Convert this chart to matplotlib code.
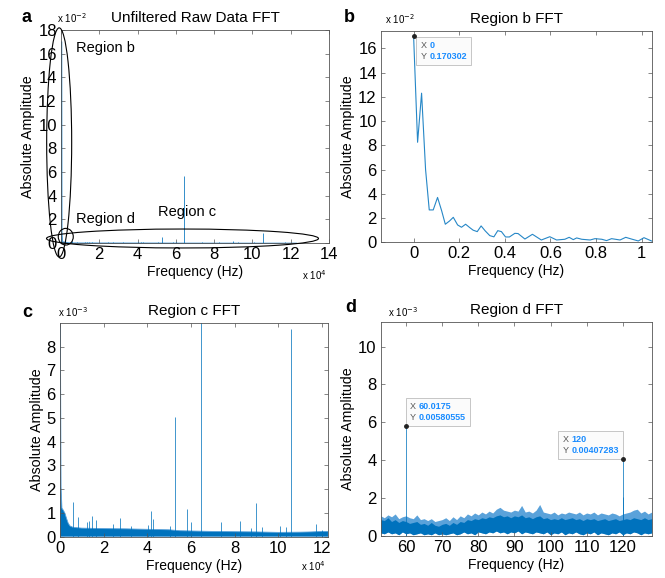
"""FFT spectra of the raw signal, with zoomed views of three regions."""

import matplotlib

matplotlib.use("Agg")
import matplotlib.pyplot as plt
import numpy as np
from matplotlib.offsetbox import AnnotationBbox, HPacker, TextArea
from matplotlib.patches import Ellipse
from matplotlib.ticker import FuncFormatter

plt.rcParams["font.family"] = ["Liberation Sans", "DejaVu Sans"]

LINE = "#0072BD"
LIGHT = "#5aa2da"

# Region b: lowest bins of the spectrum (Hz, amplitude x1e-2)
b_freq = [0.0, 0.0175, 0.035, 0.0525, 0.0686, 0.086, 0.105, 0.123, 0.139, 0.157,
          0.174, 0.193, 0.21, 0.228, 0.247, 0.261, 0.279, 0.296, 0.314, 0.334,
          0.352, 0.369, 0.385, 0.403, 0.42, 0.444, 0.458, 0.488, 0.521, 0.56,
          0.597, 0.627, 0.663, 0.682, 0.70, 0.715, 0.737, 0.774, 0.795, 0.825,
          0.846, 0.868, 0.905, 0.93, 0.955, 0.985, 1.01, 1.043]
b_amp = [17.0302, 8.25, 12.3, 6.0, 2.67, 2.67, 3.7, 2.6, 1.49, 1.75,
         2.06, 1.43, 1.24, 1.49, 1.2, 1.0, 0.88, 1.35, 0.94, 0.55,
         0.45, 0.96, 0.88, 0.44, 0.44, 0.74, 0.72, 0.27, 0.66, 0.19,
         0.46, 0.19, 0.25, 0.41, 0.22, 0.36, 0.25, 0.19, 0.3, 0.25,
         0.14, 0.3, 0.19, 0.41, 0.27, 0.11, 0.38, 0.11]

# broadband noise floor over the whole band (Hz, amplitude x1e-3)
floor_freq = [0, 150, 500, 900, 1500, 2300, 3000, 3800, 4600, 6100, 10000, 20000,
              30000, 40000, 50000, 55000, 60000, 70000, 80000, 90000, 100000,
              110000, 115000, 120000, 122900]
floor_amp = [170.302, 9.5, 2.1, 1.2, 1.12, 0.98, 0.77, 0.56, 0.45, 0.39, 0.36, 0.34,
             0.33, 0.31, 0.29, 0.25, 0.24, 0.22, 0.21, 0.2, 0.18,
             0.19, 0.2, 0.22, 0.22]

# narrow spectral lines (Hz, amplitude x1e-3)
spike_freq = [5800, 8400, 12500, 13400, 14500, 16300, 24400, 27400, 32500, 40400,
              41600, 42700, 50600, 52900, 58400, 60200, 64500, 73900, 82300, 87300,
              89900, 92500, 100600, 103700, 105600, 117100, 120100]
spike_amp = [1.45, 0.82, 0.6, 0.65, 0.88, 0.7, 0.55, 0.78, 0.45, 0.5,
             1.1, 0.75, 0.45, 5.05, 1.15, 0.6, 56.9, 0.62, 0.68, 0.38,
             1.42, 0.42, 0.45, 0.4, 8.75, 0.55, 0.3]

# Region d: noise band between 53 and 128 Hz (amplitude x1e-3)
d_freq = [53, 54, 55, 56, 57, 58, 59, 60, 61, 62, 63, 64, 65, 66, 67, 68, 69, 70,
          71, 72, 73, 74, 75, 76, 77, 78, 79, 80, 81, 82, 83, 84, 85, 86, 87, 88,
          89, 90, 91, 92, 93, 94, 95, 96, 97, 98, 99, 100, 101, 102, 103, 104,
          105, 106, 107, 108, 109, 110, 111, 112, 113, 114, 115, 116, 117, 118,
          119, 120, 121, 122, 123, 124, 125, 126, 127, 128]
d_body = [0.85, 0.80, 0.95, 0.75, 0.85, 0.70, 0.80, 0.75, 0.65, 0.70, 0.75, 0.60,
          0.65, 0.55, 0.70, 0.55, 0.50, 0.60, 0.65, 0.55, 0.70, 0.60, 0.75, 0.70,
          0.85, 0.80, 0.90, 0.85, 0.95, 0.90, 1.00, 0.95, 1.05, 1.10, 1.00, 1.05,
          0.95, 1.05, 1.00, 1.10, 0.95, 1.00, 0.90, 1.00, 1.05, 0.90, 0.95, 0.85,
          0.90, 0.85, 0.95, 0.85, 0.90, 0.95, 0.85, 0.90, 0.80, 0.90, 0.85, 0.90,
          0.80, 0.85, 0.90, 0.80, 0.85, 0.90, 0.80, 0.85, 0.90, 0.85, 0.95, 0.90,
          0.85, 0.95, 0.85, 0.90]
d_peak = [1.05, 0.95, 1.10, 1.00, 1.15, 0.90, 1.00, 1.05, 0.95, 0.90, 1.10, 0.85,
          0.90, 0.80, 0.90, 0.75, 0.80, 0.85, 0.95, 0.80, 1.00, 0.85, 1.05, 0.95,
          1.15, 1.05, 1.20, 1.10, 1.25, 1.15, 1.30, 1.20, 1.40, 1.50, 1.35, 1.30,
          1.25, 1.35, 1.30, 1.60, 1.25, 1.30, 1.20, 1.35, 1.65, 1.25, 1.20, 1.15,
          1.25, 1.10, 1.20, 1.15, 1.25, 1.20, 1.15, 1.25, 1.10, 1.20, 1.15, 1.25,
          1.10, 1.20, 1.15, 1.10, 1.20, 1.15, 1.05, 1.15, 1.20, 1.25, 1.35, 1.40,
          1.20, 1.30, 1.15, 1.25]
d_low = [0.15, 0.10, 0.20, 0.10, 0.15, 0.05, 0.20, 0.10, 0.15, 0.05, 0.10, 0.15,
         0.05, 0.10, 0.05, 0.15, 0.05, 0.10, 0.05, 0.10, 0.15, 0.05, 0.10, 0.20,
         0.10, 0.15, 0.05, 0.20, 0.15, 0.10, 0.20, 0.15, 0.25, 0.15, 0.20, 0.10,
         0.20, 0.15, 0.25, 0.10, 0.20, 0.15, 0.10, 0.20, 0.15, 0.10, 0.20, 0.05,
         0.15, 0.10, 0.20, 0.05, 0.15, 0.10, 0.20, 0.10, 0.05, 0.15, 0.10, 0.20,
         0.05, 0.15, 0.10, 0.05, 0.15, 0.10, 0.20, 0.05, 0.15, 0.10, 0.20, 0.15,
         0.05, 0.15, 0.10, 0.15]
d_line_freq = [60.0175, 119.98, 120]
d_line_amp = [0.00580555, 0.00205, 0.00407283]


def style_axes(ax, yscale, xscale=1.0):
    for sp in ax.spines.values():
        sp.set_linewidth(0.6)
        sp.set_color("#555555")
    ax.tick_params(direction="in", top=True, right=True, length=3, width=0.5,
                   labelsize=12, color="#555555", pad=3)
    ax.yaxis.set_major_formatter(FuncFormatter(lambda v, p: f"{round(v / yscale, 6):g}"))
    ax.xaxis.set_major_formatter(FuncFormatter(lambda v, p: f"{round(v / xscale, 6):g}"))
    ax.set_xlabel("Frequency (Hz)", fontsize=10, labelpad=2)
    ax.set_ylabel("Absolute Amplitude", fontsize=10.3, labelpad=2)


def exponent(ax, x, y, text, ha="left"):
    ax.text(x, y, text, transform=ax.transAxes, fontsize=7, ha=ha, va="center")


def datatip(ax, x, y, align, offset):
    keys = TextArea("X\nY", textprops=dict(color="#555555", size=6.5))
    vals = TextArea(f"{x:g}\n{y:g}", textprops=dict(color="#1a8cff", size=6.5,
                                                   weight="bold"))
    box = HPacker(children=[keys, vals], align="top", pad=0, sep=2)
    ab = AnnotationBbox(box, (x, y), xybox=offset, boxcoords="offset points",
                        box_alignment=align, frameon=True, pad=0.3,
                        bboxprops=dict(fc="#fbfbfb", ec="#bdbdbd", lw=0.6))
    ax.add_artist(ab)
    ax.plot(x, y, "o", ms=2.5, color="#222222", clip_on=False, zorder=5)


fig = plt.figure(figsize=(6.65, 5.78), dpi=100)
ax_a = fig.add_axes([0.0917, 0.5796, 0.403, 0.3685])
ax_b = fig.add_axes([0.5729, 0.5808, 0.4075, 0.3656])
ax_c = fig.add_axes([0.0902, 0.0715, 0.4035, 0.3697])
ax_d = fig.add_axes([0.5725, 0.0732, 0.4075, 0.3697])

floor_y = np.array(floor_amp) * 1e-3
spike_y = np.array(spike_amp) * 1e-3

# a: full spectrum
ax_a.fill_between(floor_freq, 0, floor_y, color=LIGHT, lw=0.8)
ax_a.vlines(spike_freq, 0, spike_y, color=LINE, lw=0.7, alpha=0.8)
ax_a.vlines(b_freq[0], 0, b_amp[0] * 1e-2, color=LINE, lw=1.0, alpha=0.8)
ax_a.set_xlim(0, 14e4)
ax_a.set_ylim(0, 0.18)
ax_a.set_xticks(np.arange(0, 14.1e4, 2e4))
ax_a.set_yticks(np.arange(0, 0.181, 0.02))
style_axes(ax_a, 1e-2, 1e4)
ax_a.set_title("Unfiltered Raw Data FFT", fontsize=11, pad=6)
exponent(ax_a, -0.015, 1.055, r"x 10$^{-2}$")
exponent(ax_a, 0.99, -0.15, r"x 10$^{4}$", ha="right")
for (cx, cy, w, h) in [(-940, 0.085, 13060, 0.1936),
                       (63480, 0.0038, 142100, 0.016),
                       (2500, 0.0053, 7840, 0.0141)]:
    ax_a.add_patch(Ellipse((cx, cy), w, h, fill=False, ec="black", lw=0.8,
                           clip_on=False, zorder=4))
ax_a.text(0.78e4, 0.165, "Region b", fontsize=10.5, va="center")
ax_a.text(0.78e4, 0.0205, "Region d", fontsize=10.5, va="center")
ax_a.text(5.07e4, 0.026, "Region c", fontsize=10.5, va="center")

# b: lowest bins
ax_b.plot(b_freq, np.array(b_amp) * 1e-2, color=LINE, lw=0.8, alpha=0.85)
ax_b.set_xlim(-0.143, 1.045)
ax_b.set_ylim(0, 0.1743)
ax_b.set_xticks(np.arange(0, 1.01, 0.2))
ax_b.set_yticks(np.arange(0, 0.161, 0.02))
style_axes(ax_b, 1e-2)
ax_b.set_title("Region b FFT", fontsize=11, pad=6)
exponent(ax_b, 0.015, 1.055, r"x 10$^{-2}$")
datatip(ax_b, b_freq[0], round(b_amp[0] * 1e-2, 6), (0, 1), (5, -4))

# c: whole band, zoomed in amplitude
ax_c.fill_between(floor_freq, 0, floor_y, color=LINE, lw=0.6, ec=LIGHT)
ax_c.vlines(spike_freq, 0, spike_y, color=LINE, lw=0.7, alpha=0.75)
ax_c.set_xlim(0, 12.29e4)
ax_c.set_ylim(0, 9e-3)
ax_c.set_xticks(np.arange(0, 12.1e4, 2e4))
ax_c.set_yticks(np.arange(0, 8.1e-3, 1e-3))
style_axes(ax_c, 1e-3, 1e4)
ax_c.set_title("Region c FFT", fontsize=11, pad=6)
exponent(ax_c, -0.007, 1.05, r"x 10$^{-3}$")
exponent(ax_c, 0.99, -0.14, r"x 10$^{4}$", ha="right")

# d: mains hum region
ax_d.fill_between(d_freq, np.array(d_low) * 1e-3, np.array(d_peak) * 1e-3,
                  color=LIGHT, lw=0)
ax_d.fill_between(d_freq, np.array(d_low) * 1e-3, np.array(d_body) * 1e-3,
                  color=LINE, lw=0)
ax_d.vlines(d_line_freq, 0, d_line_amp, color=LINE, lw=0.7, alpha=0.75)
ax_d.set_xlim(53, 128)
ax_d.set_ylim(0, 0.0113)
ax_d.set_xticks(np.arange(60, 121, 10))
ax_d.set_yticks(np.arange(0, 0.0101, 0.002))
style_axes(ax_d, 1e-3)
ax_d.set_title("Region d FFT", fontsize=11, pad=6)
exponent(ax_d, 0.027, 1.045, r"x 10$^{-3}$")
datatip(ax_d, d_line_freq[0], d_line_amp[0], (0, 0), (3, 3))
datatip(ax_d, d_line_freq[2], d_line_amp[2], (1, 0), (-3, 3))

for letter, x, y in [("a", 22, 17), ("b", 344, 17), ("c", 22, 312), ("d", 345, 307)]:
    fig.text(x / 665, 1 - y / 578, letter, fontsize=13, fontweight="bold",
             va="center", ha="left")

fig.savefig("out.png", dpi=100)
